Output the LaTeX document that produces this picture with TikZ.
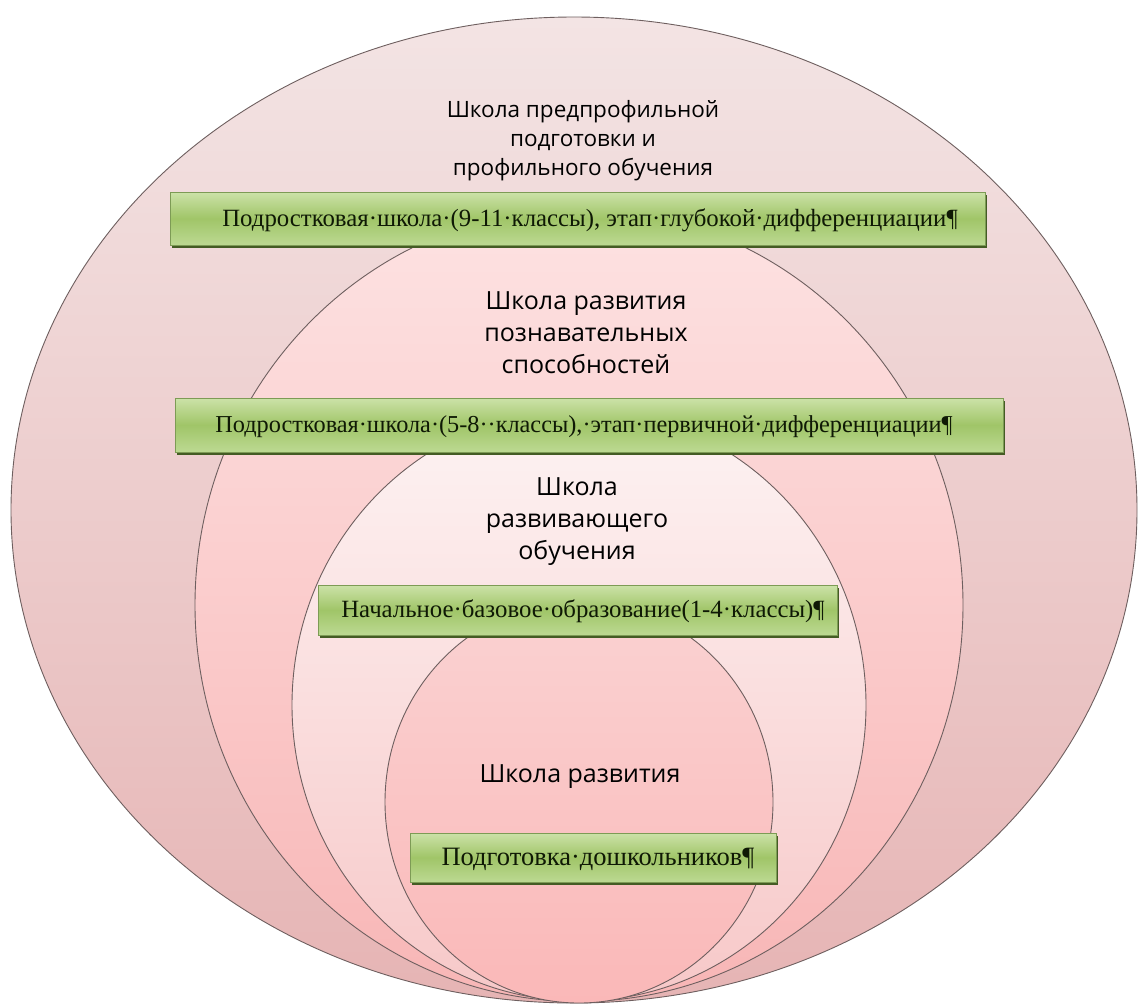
\documentclass[tikz,border=0pt]{standalone}
\usepackage{fontspec}
\setmainfont{Liberation Serif}
\newfontfamily\titlefont{Open Sans}
\usetikzlibrary{shapes.geometric,shadows}
\definecolor{eAtop}{RGB}{243,228,228}
\definecolor{eAbot}{RGB}{230,180,180}
\definecolor{eBtop}{RGB}{253,226,226}
\definecolor{eBbot}{RGB}{248,182,182}
\definecolor{eCtop}{RGB}{253,243,243}
\definecolor{eCbot}{RGB}{247,200,200}
\definecolor{eDtop}{RGB}{250,210,210}
\definecolor{eDbot}{RGB}{250,184,184}
\definecolor{edgecol}{RGB}{110,95,95}
\definecolor{gtop}{RGB}{204,226,168}
\definecolor{gmid}{RGB}{160,197,104}
\definecolor{gbot}{RGB}{188,217,146}
\definecolor{gborder}{RGB}{125,155,85}
\definecolor{gshadow}{RGB}{68,92,36}
\definecolor{boxtext}{RGB}{15,25,5}
\tikzset{
  ring/.style={ellipse, draw=edgecol, line width=0.9pt, inner sep=0pt},
  greenbox/.style={rectangle, draw=gborder, line width=0.6pt, inner sep=0pt,
     top color=gtop, bottom color=gbot, middle color=gmid,
     drop shadow={shadow xshift=2pt, shadow yshift=-3pt, fill=gshadow, opacity=1}},
  boxlabel/.style={text=boxtext, inner sep=0pt},
  title/.style={align=center, inner sep=0pt, text=black}
}
\begin{document}
\begin{tikzpicture}[x=1pt,y=-1pt]
\useasboundingbox (0,0) rectangle (1138,1005);
\fill[white] (0,0) rectangle (1138,1005);
% nested ellipses
\node[ring, top color=eAtop, bottom color=eAbot, minimum width=1126pt, minimum height=986pt] (e1) at (574,510) {};
\node[ring, top color=eBtop, bottom color=eBbot, minimum width=768pt, minimum height=793pt] (e2) at (579,605) {};
\node[ring, top color=eCtop, bottom color=eCbot, minimum width=574pt, minimum height=592pt] (e3) at (579,705) {};
\node[ring, top color=eDtop, bottom color=eDbot, minimum width=388pt, minimum height=402pt] (e4) at (579,802) {};
% titles
\node[title, font=\titlefont\fontsize{22.5}{29}\selectfont] (t1) at (583,141) {Школа предпрофильной\\подготовки и\\профильного обучения};
\node[title, font=\titlefont\fontsize{25}{32}\selectfont] (t2) at (586,333) {Школа развития\\познавательных\\способностей};
\node[title, font=\titlefont\fontsize{25}{32}\selectfont] (t3) at (577,522) {Школа\\развивающего\\обучения};
\node[title, font=\titlefont\fontsize{25}{32}\selectfont] (t4) at (580,777) {Школа развития};
% green boxes
\node[greenbox, minimum width=815pt, minimum height=53pt] (b1) at (577.5,218.5) {};
\node[greenbox, minimum width=828pt, minimum height=54pt] (b2) at (589,425) {};
\node[greenbox, minimum width=519pt, minimum height=50pt] (b3) at (577.5,610) {};
\node[greenbox, minimum width=366pt, minimum height=49pt] (b4) at (593,857.5) {};
\node[boxlabel, font=\fontsize{24.8}{28}\selectfont] (l1) at (590,220) {Подростковая·школа·(9-11·классы), этап·глубокой·дифференциации¶};
\node[boxlabel, font=\fontsize{24.3}{28}\selectfont] (l2) at (584,427) {Подростковая·школа·(5-8··классы),·этап·первичной·дифференциации¶};
\node[boxlabel, font=\fontsize{24.8}{28}\selectfont] (l3) at (583,611) {Начальное·базовое·образование(1-4·классы)¶};
\node[boxlabel, font=\fontsize{26.5}{30}\selectfont] (l4) at (598,859) {Подготовка·дошкольников¶};
\end{tikzpicture}
\end{document}
